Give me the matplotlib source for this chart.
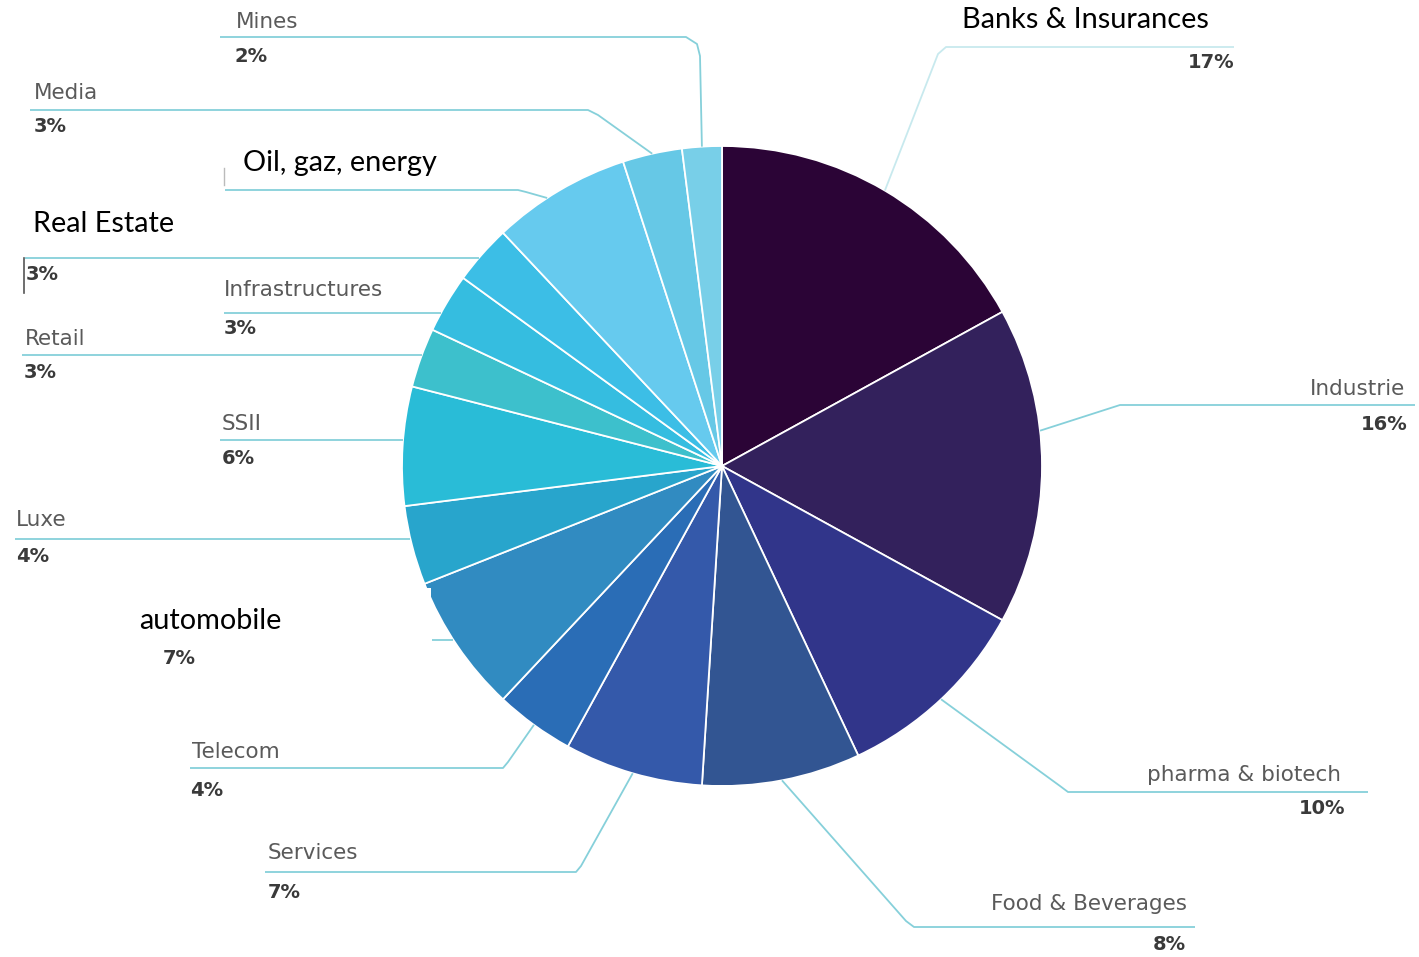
import numpy as np
import matplotlib.pyplot as plt
from matplotlib.patches import Rectangle

W, H = 1419, 957

sectors = ["Banks & Insurances", "Industrie", "pharma & biotech", "Food & Beverages",
           "Services", "Telecom", "automobile", "Luxe", "SSII", "Retail",
           "Infrastructures", "Real Estate", "Oil, gaz, energy", "Media", "Mines"]
shares = [17, 16, 10, 8, 7, 4, 7, 4, 6, 3, 3, 3, 7, 3, 2]
share_labels = ["17%", "16%", "10%", "8%", "7%", "4%", "7%", "4%", "6%", "3%",
                "3%", "3%", "", "3%", "2%"]
colors = ["#2b0436", "#33215c", "#31358a", "#325592", "#3459aa", "#2a6db6",
          "#318bc1", "#28a5cc", "#29bcd7", "#3dc0cc", "#35bde0", "#3cbee6",
          "#66caee", "#66c8e6", "#78cfe8"]

# label layout in pixel coords (y down): name pos, ha, pct pos, leader path, overlay style
layout = {
    "Banks & Insurances": dict(name=(962, 20), ha="left", pct=(1234, 62), pct_ha="right",
                               path=[(1234, 47), (946, 47), (938, 54)], big=True, faint=True),
    "Industrie": dict(name=(1405, 389), ha="right", pct=(1408, 424), pct_ha="right",
                      path=[(1415, 405), (1120, 405)], pos=0.61),
    "pharma & biotech": dict(name=(1341, 775), ha="right", pct=(1345, 809), pct_ha="right",
                             path=[(1368, 792), (1068, 792), (1060, 786)]),
    "Food & Beverages": dict(name=(1187, 904), ha="right", pct=(1186, 944), pct_ha="right",
                             path=[(1195, 927), (914, 927), (906, 921)]),
    "Services": dict(name=(268, 853), ha="left", pct=(268, 893),
                     path=[(265, 872), (576, 872), (581, 866)]),
    "Telecom": dict(name=(192, 752), ha="left", pct=(190, 791),
                    path=[(190, 768), (503, 768), (508, 762)]),
    "automobile": dict(name=(139, 621), ha="left", pct=(163, 658),
                       path=[(432, 640)], big=True),
    "Luxe": dict(name=(16, 520), ha="left", pct=(16, 556), path=[(15, 539)]),
    "SSII": dict(name=(222, 424), ha="left", pct=(222, 458), path=[(220, 440)]),
    "Retail": dict(name=(25, 339), ha="left", pct=(24, 373), path=[(22, 355)]),
    "Infrastructures": dict(name=(224, 290), ha="left", pct=(224, 328), path=[(224, 313)]),
    "Real Estate": dict(name=(33, 224), ha="left", pct=(26, 275), path=[(25, 258)], big=True),
    "Oil, gaz, energy": dict(name=(243, 163), ha="left", pct=None,
                             path=[(225, 190), (518, 190), (526, 192)], big=True, pos=0.6),
    "Media": dict(name=(34, 93), ha="left", pct=(34, 127),
                  path=[(30, 110), (588, 110), (598, 115)]),
    "Mines": dict(name=(236, 22), ha="left", pct=(234, 56),
                  path=[(220, 37), (686, 37), (697, 44), (700, 56)]),
}

cx, cy, r = 722, 466, 320
line_color = "#86d0da"


def flip(y):
    return H - y


fig = plt.figure(figsize=(W / 100, H / 100), dpi=100)
ax = fig.add_axes([0, 0, 1, 1])

wedges, _ = ax.pie(shares, colors=colors, startangle=90, counterclock=False,
                   center=(cx, flip(cy)), radius=r, frame=True,
                   wedgeprops=dict(edgecolor="white", linewidth=1.3))
ax.set_xlim(0, W)
ax.set_ylim(0, H)
ax.axis("off")

for name, wedge, pct in zip(sectors, wedges, share_labels):
    spec = layout[name]
    pts = [(x, flip(y)) for x, y in spec["path"]]
    if len(pts) == 1:
        # horizontal leader straight to the pie edge
        dy = flip(cy) - pts[0][1]
        x_edge = cx - np.sqrt(r ** 2 - dy ** 2)
        pts.append((x_edge, pts[0][1]))
    else:
        t = np.radians(wedge.theta1 + spec.get("pos", 0.5) * (wedge.theta2 - wedge.theta1))
        pts.append((cx + r * np.cos(t), flip(cy) + r * np.sin(t)))
    xs, ys = zip(*pts)
    ax.plot(xs, ys, color=line_color, lw=1.3, alpha=0.45 if spec.get("faint") else 1,
            solid_capstyle="butt", zorder=1)

    nx, ny = spec["name"]
    if spec.get("big"):
        ax.text(nx, flip(ny), name, ha=spec["ha"], va="center", fontsize=20.8,
                family=["Lato", "DejaVu Sans"], color="black", zorder=4)
    else:
        ax.text(nx, flip(ny), name, ha=spec["ha"], va="center", fontsize=15.5,
                family="DejaVu Sans", color="#5a5a5a", zorder=4)
    if spec["pct"] is not None:
        px, py = spec["pct"]
        ax.text(px, flip(py), pct, ha=spec.get("pct_ha", "left"), va="center",
                fontsize=14, fontweight="bold", family="DejaVu Sans",
                color="#3a3a3a", zorder=4)

# white box left over from the automobile overlay label
ax.add_patch(Rectangle((0, flip(648)), 431, 60, facecolor="white", edgecolor="none", zorder=3))
# small cursor marks in the source picture
ax.plot([24, 24], [flip(258), flip(293)], color="#555555", lw=1.2, zorder=4)
ax.plot([224, 224], [flip(168), flip(185)], color="#bbbbbb", lw=1.0, zorder=4)

fig.savefig("out.png", dpi=100)
